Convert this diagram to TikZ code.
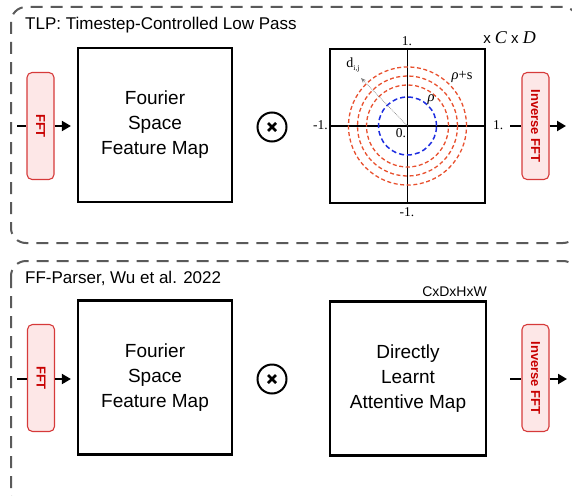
\documentclass[tikz,border=0pt]{standalone}
\usepackage{fontspec}
\setmainfont{Liberation Sans}
\newfontfamily\serifx{Liberation Serif}
\usetikzlibrary{arrows.meta,calc}
\definecolor{fftfill}{HTML}{FDE7E7}
\definecolor{fftdraw}{HTML}{D63A3A}
\definecolor{ffttext}{HTML}{C80000}
\definecolor{contgray}{HTML}{5A5A5A}
\definecolor{ringred}{HTML}{E8502E}
\definecolor{ringblue}{HTML}{1E2EE0}
\tikzset{
  container/.style={draw=contgray, line width=2pt, dash pattern=on 12pt off 8pt, rounded corners=15pt},
  fftbox/.style={draw=fftdraw, fill=fftfill, line width=1.1pt, rounded corners=5pt, minimum width=27pt, minimum height=107pt, inner sep=0pt, text=ffttext, font=\fontsize{13}{15}\selectfont\bfseries},
  bigbox/.style={draw, line width=2.2pt, minimum width=154pt, minimum height=154pt, inner sep=0pt, align=center, font=\fontsize{19}{25}\selectfont},
  titletext/.style={anchor=west, inner sep=0pt, font=\fontsize{17}{20}\selectfont},
  flow/.style={line width=2pt, -{Triangle[length=9pt,width=10pt]}},
  plain/.style={line width=2pt},
  otimes/.style={circle, draw, line width=2pt, minimum size=29pt, inner sep=0pt},
  crossline/.style={line width=2.6pt},
  axlabel/.style={inner sep=0pt, font=\serifx\fontsize{13.5}{15}\selectfont},
  ring/.style={line width=1.3pt, draw=ringred, dash pattern=on 4pt off 2.6pt},
  bluering/.style={line width=1.5pt, draw=ringblue, dash pattern=on 5pt off 3pt},
}
\begin{document}
\begin{tikzpicture}[x=1pt,y=-1pt]
\useasboundingbox (0,0) rectangle (572,495);
% containers
\draw[container] (11,7) rectangle (578,243);
\draw[container] (11,261) rectangle (578,510);
\node[titletext] (t1) at (25,25) {TLP: Timestep-Controlled Low Pass};
\node[titletext] (t2) at (25,278) {FF-Parser, Wu et al. 2022};

% ---------- top row ----------
\coordinate (in1) at (17,126);
\node[fftbox] (fft1) at (40.5,126) {\rotatebox{-90}{FFT}};
\node[bigbox] (big1) at (155,125) {Fourier\\Space\\Feature Map};
\node[otimes] (x1) at (272,127) {};
\draw[crossline] ($(x1)+(-4,-4)$) -- ($(x1)+(4,4)$);
\draw[crossline] ($(x1)+(-4,4)$) -- ($(x1)+(4,-4)$);
\node[bigbox, minimum width=155pt] (spec) at (407.5,126) {};
\coordinate (o) at (407.5,126);
\node[fftbox] (ifft1) at (535.5,126) {\rotatebox{-90}{Inverse FFT}};
\coordinate (out1) at (566,126);
\coordinate (ifin1) at (510,126);

\draw[plain] (in1) -- (fft1.west);
\draw[flow, shorten >=6pt] (fft1.east) -- (big1.west |- fft1.east);
\draw[plain] (ifin1) -- (ifft1.west);
\draw[flow] (ifft1.east) -- (out1);

% spectrum contents
\draw[line width=1.1pt] (spec.west) -- (spec.east);
\draw[line width=1.1pt] (spec.north) -- (spec.south);
\draw[ring] (o) circle[radius=41pt];
\draw[ring] (o) circle[radius=50pt];
\draw[ring] (o) circle[radius=59pt];
\draw[bluering] (o) circle[radius=29pt];
\coordinate (dtip) at (361,78);
\draw[gray, line width=0.7pt, densely dotted, -{Stealth[length=5pt,width=4pt]}] (o) -- (dtip);
\node[axlabel] (ltop) at (407,41) {1.};
\node[axlabel] (lbot) at (407,212) {-1.};
\node[axlabel, anchor=east] (lleft) at (328,125) {-1.};
\node[axlabel, anchor=west] (lright) at (493,125) {1.};
\node[axlabel] (lzero) at (401,133) {0.};
\node[axlabel, font=\serifx\fontsize{14}{16}\selectfont] (ld) at (353,65) {d\raisebox{-2.5pt}{\fontsize{7.5}{8}\selectfont i,j}};
\node[axlabel, font=\serifx\fontsize{14.5}{16}\selectfont] (lrs) at (462,77) {\itshape ρ\upshape+s};
\node[axlabel, font=\serifx\fontsize{14.5}{16}\selectfont] (lr) at (431,100) {\itshape ρ};
\node[anchor=east, inner sep=0pt, font=\fontsize{15}{17}\selectfont] (dims1) at (536,38) {x {\serifx\itshape\fontsize{18}{20}\selectfont C} x {\serifx\itshape\fontsize{18}{20}\selectfont D}};

% ---------- bottom row ----------
\coordinate (in2) at (17,379);
\node[fftbox] (fft2) at (41,378) {\rotatebox{-90}{FFT}};
\node[bigbox] (big2) at (155,377.5) {Fourier\\Space\\Feature Map};
\node[otimes] (x2) at (272,379) {};
\draw[crossline] ($(x2)+(-4,-4)$) -- ($(x2)+(4,4)$);
\draw[crossline] ($(x2)+(-4,4)$) -- ($(x2)+(4,-4)$);
\node[bigbox, minimum width=156pt] (attn) at (408,378.5) {Directly\\Learnt\\Attentive Map};
\node[anchor=east, inner sep=0pt, font=\fontsize{14}{16}\selectfont] (dims2) at (487,292) {CxDxHxW};
\node[fftbox] (ifft2) at (535.5,378) {\rotatebox{-90}{Inverse FFT}};
\coordinate (ifin2) at (510,379);
\coordinate (out2) at (567,379);

\draw[plain] (in2) -- (fft2.west |- in2);
\draw[flow, shorten >=6pt] (fft2.east |- in2) -- (big2.west |- in2);
\draw[plain] (ifin2) -- (ifft2.west |- ifin2);
\draw[flow] (ifft2.east |- ifin2) -- (out2);
\end{tikzpicture}
\end{document}
